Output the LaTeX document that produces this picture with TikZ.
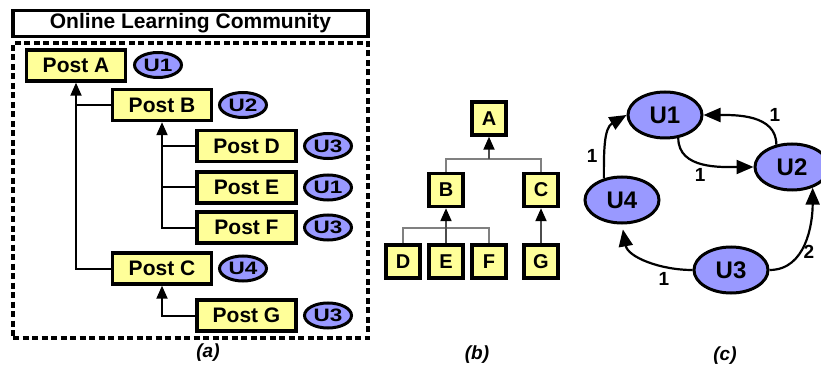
\documentclass[tikz,border=0pt]{standalone}
\usepackage{fontspec}
\setmainfont{Liberation Sans}
\usetikzlibrary{arrows.meta,shapes.geometric}
\definecolor{postyellow}{RGB}{255,255,153}
\definecolor{userblue}{RGB}{153,153,255}
\newcommand{\fs}[1]{\fontsize{#1}{#1}\selectfont\bfseries}
\newcommand{\wide}[1]{\scalebox{1.25}[1]{#1}}
\tikzset{
  post/.style={draw, line width=3.4pt, fill=postyellow, minimum width=99pt, minimum height=31pt, inner sep=0pt, font=\fs{21}},
  usr/.style={ellipse, draw, line width=3pt, fill=userblue, minimum width=47pt, minimum height=25pt, inner sep=0pt, font=\fs{18}},
  sq/.style={draw, line width=3.4pt, fill=postyellow, minimum width=34pt, minimum height=33pt, inner sep=0pt, font=\fs{20}},
  usrbig/.style={ellipse, draw, line width=3pt, fill=userblue, minimum width=74pt, minimum height=46pt, inner sep=0pt, font=\fs{24}},
  reply/.style={line width=2pt, -{Triangle[length=13pt,width=11pt]}},
  tree/.style={gray, line width=1.2pt},
  stem/.style={gray!60!black, line width=2pt, -{Triangle[length=13pt,width=11pt,color=black]}},
  edge/.style={line width=2.2pt, -{Triangle[length=17pt,width=14pt]}},
  wt/.style={font=\fs{19}, inner sep=2pt},
  panel/.style={font=\fs{19}\itshape}
}
\begin{document}
\begin{tikzpicture}[x=1pt, y=1pt]
\useasboundingbox (0,0) rectangle (821,367);
%%%%% (a) posts of the forum %%%%%
\node[draw, line width=3.4pt, minimum width=355pt, minimum height=25pt, font=\fs{21}] (olc) at (190.5,343.5) {Online Learning Community};
\node[draw, line width=3.2pt, dash pattern=on 6pt off 3.5pt, minimum width=355pt, minimum height=295pt] (forum) at (190.5,176.5) {};
\node[post] (pA) at (76,301.5) {Post A};
\node[post] (pB) at (162,262) {Post B};
\node[post] (pD) at (246.5,221) {Post D};
\node[post] (pE) at (246.5,179.5) {Post E};
\node[post] (pF) at (246.5,139.5) {Post F};
\node[post] (pC) at (162,98.5) {Post C};
\node[post] (pG) at (246.5,51.5) {Post G};
\node[usr] (uA) at (158,302) {\wide{U1}};
\node[usr] (uB) at (243,262) {\wide{U2}};
\node[usr] (uD) at (328,221) {\wide{U3}};
\node[usr] (uE) at (328,179.5) {\wide{U1}};
\node[usr] (uF) at (328,139.5) {\wide{U3}};
\node[usr] (uC) at (243,98.5) {\wide{U4}};
\node[usr] (uG) at (328,51.5) {\wide{U3}};
\draw[reply] (pC.west) -| (pA.south);
\draw[line width=2pt] (pB.west) -- (pB.west -| pA.south);
\draw[reply] (pF.west) -| (pB.south);
\draw[line width=2pt] (pD.west) -- (pD.west -| pB.south);
\draw[line width=2pt] (pE.west) -- (pE.west -| pB.south);
\draw[reply] (pG.west) -| (pC.south);
\node[panel] (capA) at (208,14) {(a)};
%%%%% (b) reply tree %%%%%
\node[sq] (tA) at (489,248.5) {A};
\node[sq] (tB) at (446,177) {B};
\node[sq] (tC) at (541,177) {C};
\node[sq] (tD) at (403,105.5) {D};
\node[sq] (tE) at (446,105.5) {E};
\node[sq] (tF) at (489,105.5) {F};
\node[sq] (tG) at (541,105.5) {G};
\coordinate (jA) at (489,208);
\coordinate (jB) at (446,139);
\draw[tree] (tB.north) |- (jA) -| (tC.north);
\draw[stem] (jA) -- (tA.south);
\draw[tree] (tD.north) |- (jB) -| (tF.north);
\draw[stem] (tE.north) -- (tB.south);
\draw[stem] (tG.north) -- (tC.south);
\node[panel] (capB) at (477,12) {(b)};
%%%%% (c) user graph %%%%%
\node[usrbig] (n1) at (665,252) {U1};
\node[usrbig] (n2) at (792,200) {U2};
\node[usrbig] (n4) at (622,167) {U4};
\node[usrbig] (n3) at (731,97) {U3};
\draw[edge] (n4.130) to[out=90,in=210] node[wt,left=4pt,pos=0.3] (w41) {1} (n1.west);
\draw[edge] (n1.-60) to[out=-90,in=180] node[wt,below left,pos=0.55] (w12) {1} (n2.west);
\draw[edge] (n2.125) to[out=90,in=0] node[wt,above right,pos=0.3] (w21) {1} (n1.east);
\draw[edge, shorten >=5pt] (n3.west) to[out=180,in=-80] node[wt,below=3pt,pos=0.3] (w34) {1} (n4.south);
\draw[edge] (n3.east) to[out=0,in=-90] node[wt,right,pos=0.4] (w32) {2} (n2.-45);
\node[panel] (capC) at (725,11) {(c)};
\end{tikzpicture}
\end{document}
